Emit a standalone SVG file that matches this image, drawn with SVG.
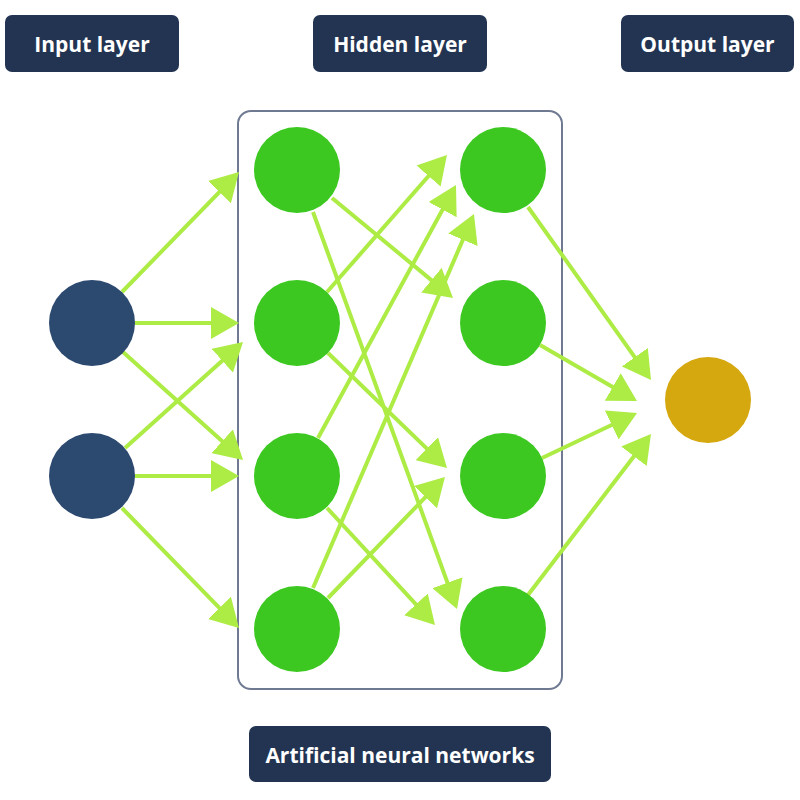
<svg xmlns="http://www.w3.org/2000/svg" width="800" height="800" viewBox="0 0 800 800">
<defs>
<style>
.lbl rect{fill:#223452}
.lbl text{fill:#ffffff;font-family:"Open Sans","Liberation Sans",sans-serif;font-weight:700;font-size:21px;text-anchor:middle}
.in{fill:#2c4970}
.hid{fill:#3cc820}
.out{fill:#d4a80e}
#connectors line{stroke:#adeb45;stroke-width:4;marker-end:url(#ah)}
</style>
<marker id="ah" markerUnits="userSpaceOnUse" markerWidth="28" markerHeight="32" refX="18" refY="16" orient="auto" viewBox="0 0 28 32">
<path d="M0,0 L28,16 L0,32 Z" fill="#adeb45"/>
</marker>
</defs>
<rect width="800" height="800" fill="#ffffff"/>
<g id="label-input" class="lbl"><rect x="5" y="15" width="174" height="57" rx="7"/><text x="92" y="51.5">Input layer</text></g>
<g id="label-hidden" class="lbl"><rect x="313" y="15" width="174" height="57" rx="7"/><text x="400" y="51.5">Hidden layer</text></g>
<g id="label-output" class="lbl"><rect x="621" y="15" width="173" height="57" rx="7"/><text x="707.5" y="51.5">Output layer</text></g>
<g id="label-ann" class="lbl"><rect x="249" y="726" width="302" height="56" rx="7"/><text x="400" y="762.5">Artificial neural networks</text></g>
<g id="hidden-box"><rect x="238" y="111" width="324" height="578" rx="13" fill="none" stroke="#6f7a92" stroke-width="2"/></g>
<g id="connectors">
<line x1="122" y1="292" x2="232" y2="179.2"/>
<line x1="135" y1="323" x2="229" y2="323"/>
<line x1="123" y1="352" x2="235.6" y2="453.3"/>
<line x1="125" y1="448" x2="235.6" y2="348.7"/>
<line x1="135" y1="476" x2="229" y2="476"/>
<line x1="122" y1="508" x2="232" y2="620.8"/>
<line x1="332" y1="198" x2="445.3" y2="291.6"/>
<line x1="313" y1="212" x2="453.6" y2="599.6"/>
<line x1="327" y1="292" x2="440.4" y2="162.5"/>
<line x1="328" y1="353" x2="439.8" y2="461.1"/>
<line x1="318" y1="438" x2="451.2" y2="193.8"/>
<line x1="327" y1="508" x2="428.2" y2="617.6"/>
<line x1="313" y1="588" x2="470" y2="223.2"/>
<line x1="328" y1="598" x2="438" y2="484.2"/>
<line x1="528" y1="207" x2="645.2" y2="371.9"/>
<line x1="540" y1="345" x2="628.3" y2="396"/>
<line x1="542" y1="458" x2="628" y2="417.3"/>
<line x1="528" y1="595" x2="644.9" y2="442"/>
</g>
<g id="input-1"><circle class="in" cx="92" cy="323" r="43"/></g>
<g id="input-2"><circle class="in" cx="92" cy="476" r="43"/></g>
<g id="hidden-1-1"><circle class="hid" cx="297" cy="170" r="43"/></g>
<g id="hidden-1-2"><circle class="hid" cx="297" cy="323" r="43"/></g>
<g id="hidden-1-3"><circle class="hid" cx="297" cy="476" r="43"/></g>
<g id="hidden-1-4"><circle class="hid" cx="297" cy="629" r="43"/></g>
<g id="hidden-2-1"><circle class="hid" cx="503" cy="170" r="43"/></g>
<g id="hidden-2-2"><circle class="hid" cx="503" cy="323" r="43"/></g>
<g id="hidden-2-3"><circle class="hid" cx="503" cy="476" r="43"/></g>
<g id="hidden-2-4"><circle class="hid" cx="503" cy="629" r="43"/></g>
<g id="output-1"><circle class="out" cx="708" cy="400" r="43"/></g>
</svg>
